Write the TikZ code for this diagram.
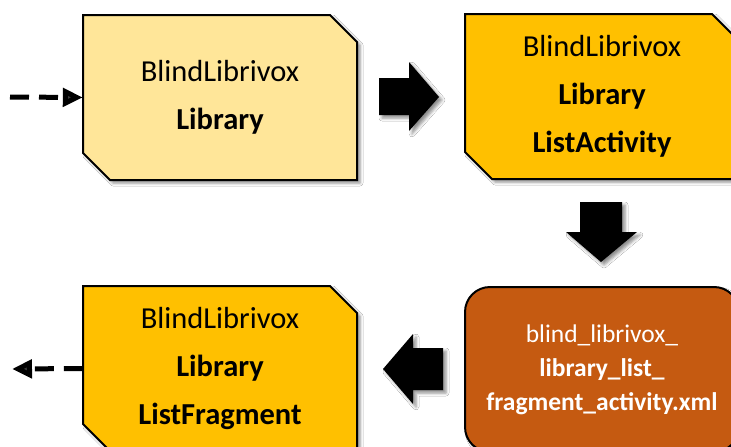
\documentclass[tikz,border=0pt]{standalone}
\usepackage{fontspec}
\setmainfont{Carlito}
\usetikzlibrary{arrows.meta,shadows.blur}
\definecolor{lightgold}{HTML}{FFE699}
\definecolor{gold}{HTML}{FFC000}
\definecolor{rust}{HTML}{C55A11}
\tikzset{
  shad/.style={blur shadow={shadow xshift=3pt,shadow yshift=-3pt,shadow blur radius=3pt,shadow opacity=45}},
  chtext/.style={rectangle,minimum width=274pt,minimum height=165pt,
    inner sep=0pt,align=center,font=\fontsize{30.5}{48}\selectfont},
  outline/.style={draw=black,line width=2pt,shad},
  rbox/.style={rounded corners=25pt,draw=black,line width=2pt,minimum width=274pt,minimum height=165pt,
    inner sep=0pt,align=center,font=\fontsize{25.5}{34}\selectfont,text=white,shad},
  blockarrow/.style={fill=black,shad},
  dasharrow/.style={line width=5pt,dash pattern=on 19pt off 10pt,-{Triangle[length=20pt,width=18pt]}}
}
% chamfered box outline around centre coordinate #1, fill #2
\newcommand{\chamferbox}[2]{%
  \path[outline,fill=#2] ([shift={(-137pt,82.5pt)}]#1) -- ([shift={(110pt,82.5pt)}]#1)
    -- ([shift={(137pt,55.5pt)}]#1) -- ([shift={(137pt,-82.5pt)}]#1)
    -- ([shift={(-110pt,-82.5pt)}]#1) -- ([shift={(-137pt,-55.5pt)}]#1) -- cycle;}
\begin{document}
\begin{tikzpicture}[x=1pt,y=1pt]
\useasboundingbox (0,0) rectangle (731,-447);
\clip (0,0) rectangle (731,-447);
\fill[white] (0,0) rectangle (731,-447);
\coordinate (c1) at (220,-97.5);
\coordinate (c2) at (602,-96.5);
\coordinate (c3) at (220,-368.5);
\chamferbox{c1}{lightgold}
\chamferbox{c2}{gold}
\chamferbox{c3}{gold}
\node[chtext] (b1) at (c1) {BlindLibrivox\\\textbf{Library}};
\node[chtext] (b2) at (c2) {BlindLibrivox\\\textbf{Library}\\\textbf{ListActivity}};
\node[chtext] (b3) at (c3) {BlindLibrivox\\\textbf{Library}\\\textbf{ListFragment}};
\node[rbox,fill=rust] (b4) at (602,-369.5) {blind\_librivox\_\\\textbf{library\_list\_}\\\textbf{fragment\_activity.xml}};
% block arrows
\fill[blockarrow] (379,-78) -- (409,-78) -- (409,-62) -- (439,-97) -- (409,-131) -- (409,-115) -- (379,-115) -- cycle;
\fill[blockarrow] (580,-202) -- (622,-202) -- (622,-232) -- (637,-232) -- (601,-262) -- (566,-232) -- (580,-232) -- cycle;
\fill[blockarrow] (443,-348) -- (413,-348) -- (413,-334) -- (383,-369) -- (413,-404) -- (413,-390) -- (443,-390) -- cycle;
% dashed connectors
\coordinate (in) at (10,-97);
\coordinate (out) at (12,-369);
\draw[dasharrow] (in) -- (b1.west);
\draw[dasharrow] (b3.west) -- (out);
\end{tikzpicture}
\end{document}
